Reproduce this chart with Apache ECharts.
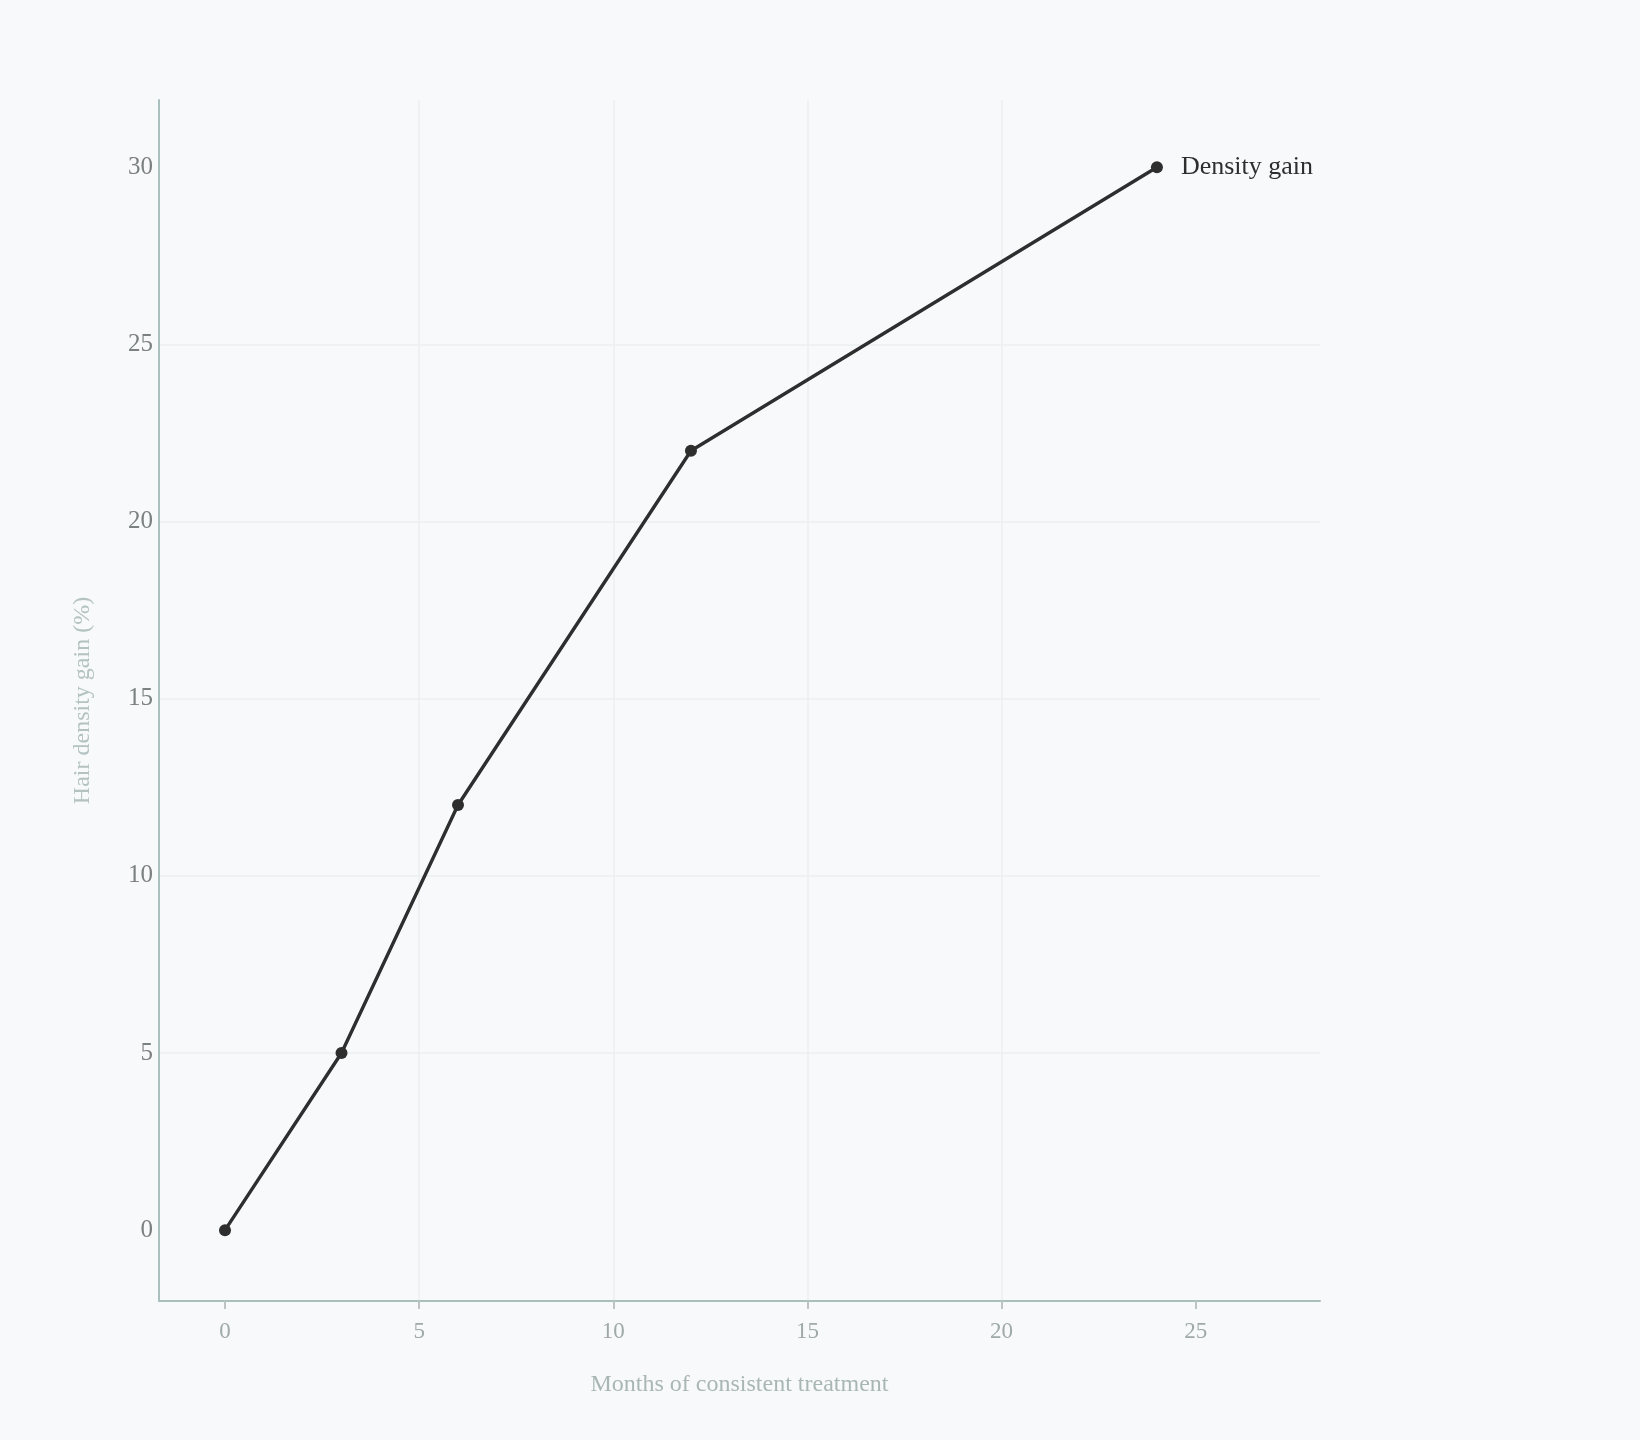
<!DOCTYPE html>
<html>
<head>
<meta charset="utf-8">
<script src="https://cdn.jsdelivr.net/npm/echarts@6/dist/echarts.min.js"></script>
<style>
html,body{margin:0;padding:0;background:#f8f9fa;}
#chart{width:1640px;height:1440px;}
</style>
</head>
<body>
<div id="chart"></div>
<script>
const months = [0, 3, 6, 12, 24];
const densityGain = [0, 5, 12, 22, 30];
const seriesName = 'Density gain';
const xTicks = [0, 5, 10, 15, 20, 25];
const yTicks = [0, 5, 10, 15, 20, 25, 30];
const xTitle = 'Months of consistent treatment';
const yTitle = 'Hair density gain (%)';

const font = '"Liberation Serif", "Times New Roman", serif';
const chart = echarts.init(document.getElementById('chart'));
chart.setOption({
  backgroundColor: '#f8f9fa',
  animation: false,
  grid: {left: 159, right: 320, top: 100, bottom: 139, containLabel: false},
  xAxis: {
    type: 'value', min: -1.7, max: 28.2, interval: 5,
    name: xTitle, nameLocation: 'middle', nameGap: 72,
    nameTextStyle: {fontFamily: font, fontSize: 24, color: '#a9b6b6'},
    axisLine: {show: true, onZero: false, lineStyle: {color: '#a9c0bf', width: 2}},
    axisTick: {show: true, length: 8, customValues: xTicks, lineStyle: {color: '#bcc4c6', width: 2}},
    axisLabel: {customValues: xTicks, margin: 19, fontFamily: font, fontSize: 23, color: '#9fa9a9'},
    splitLine: {show: true, showMinLine: false, showMaxLine: false, lineStyle: {color: '#eceff1', width: 1.5}}
  },
  yAxis: {
    type: 'value', min: -2, max: 31.9, interval: 5,
    name: yTitle, nameLocation: 'middle', nameGap: 64,
    nameTextStyle: {fontFamily: font, fontSize: 24, color: '#b4c2c2'},
    axisLine: {show: true, onZero: false, lineStyle: {color: '#a9c0bf', width: 2}},
    axisTick: {show: false, customValues: yTicks},
    axisLabel: {customValues: yTicks, margin: 6, fontFamily: font, fontSize: 25, color: '#7b8081'},
    splitLine: {show: true, showMinLine: false, showMaxLine: false, lineStyle: {color: '#eceff1', width: 1.5}}
  },
  series: [{
    name: seriesName,
    type: 'line',
    data: months.map((m, i) => [m, densityGain[i]]),
    symbol: 'circle', symbolSize: 12,
    lineStyle: {color: '#2e2e2e', width: 3.4},
    itemStyle: {color: '#2e2e2e'},
    endLabel: {show: true, formatter: seriesName, distance: 24, fontFamily: font, fontSize: 26, color: '#2e2e2e'}
  }]
});
</script>
</body>
</html>
